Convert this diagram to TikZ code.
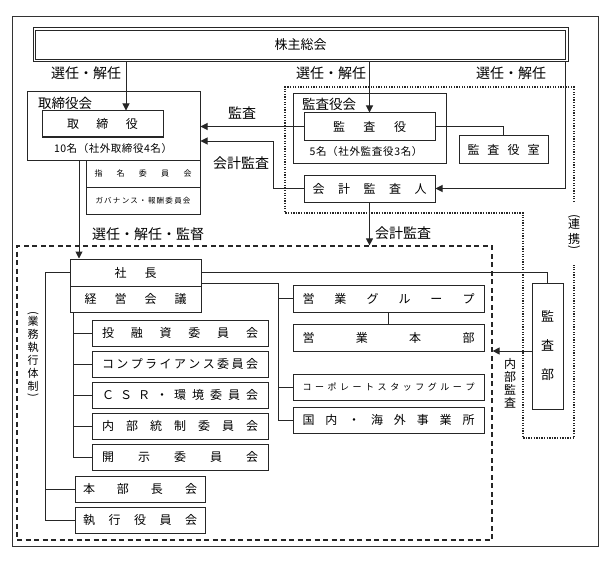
\documentclass[tikz,border=0pt]{standalone}
\usepackage{fontspec}
\setmainfont{Noto Sans CJK JP}
\usetikzlibrary{arrows.meta,calc}
\ExplSyntaxOn
\NewDocumentCommand\sprd{mm}{
  \makebox[#1]{
    \bool_set_false:N \l_tmpa_bool
    \tl_map_inline:nn {#2} { \bool_if:NT \l_tmpa_bool {\hfill} \bool_set_true:N \l_tmpa_bool ##1 }
  }
}
\ExplSyntaxOff
\newcommand\vop{\rotatebox[origin=c]{-90}{(}}
\newcommand\vcp{\rotatebox[origin=c]{-90}{)}}
\begin{document}
\begin{tikzpicture}[x=1pt,y=-1pt,
  box/.style={draw=black!85,line width=1pt,inner sep=0pt,font=\fontsize{12}{14}\selectfont},
  ln/.style={draw=black!85,line width=1pt},
  arr/.style={draw=black!85,line width=1pt,-{Triangle[length=7pt,width=7pt]}},
  lbl/.style={inner sep=0pt,font=\fontsize{14}{16}\selectfont},
  vlbl/.style={inner sep=0pt}]
\useasboundingbox (0,0) rectangle (610,567);
\draw[black!80,line width=1pt] (12,17) rectangle (598,546);

% shareholders meeting
\node[box,minimum width=535pt,minimum height=34pt,font=\fontsize{13}{15}\selectfont] (kabu) at (300.5,45) {株主総会};
\draw[black!85,line width=1.3pt] ($(kabu.north west)+(3,3)$) rectangle ($(kabu.south east)+(-3,-3)$);

% board
\node[box,minimum width=173pt,minimum height=68pt] (torikai) at (113.5,126) {};
\node[box,minimum width=121pt,minimum height=26pt] (tori) at (102.5,124) {\sprd{71pt}{取締役}};
\node[lbl,font=\fontsize{13.5}{15}\selectfont] (torikaiL) at (65,103) {取締役会};
\node[inner sep=0pt,font=\fontsize{10.5}{12}\selectfont] (toriN) at (113,149) {\sprd{118pt}{10名（社外取締役4名）}};
\node[box,minimum width=114pt,minimum height=27pt,font=\fontsize{8}{10}\selectfont] (shimei) at (143,173.5) {\sprd{97pt}{指名委員会}};
\node[box,minimum width=114pt,minimum height=27pt,font=\fontsize{7.5}{9}\selectfont] (gov) at (143,200.5) {\sprd{95pt}{ガバナンス・報酬委員会}};

% auditors
\node[box,minimum width=153pt,minimum height=69pt] (kansakai) at (369.5,128.5) {};
\node[box,minimum width=131pt,minimum height=27pt] (kansa) at (369.5,126.5) {\sprd{73pt}{監査役}};
\node[lbl,font=\fontsize{13.5}{15}\selectfont] (kansakaiL) at (329,104) {監査役会};
\node[inner sep=0pt,font=\fontsize{10.5}{12}\selectfont] (kansaN) at (366,152) {\sprd{113pt}{5名（社外監査役3名）}};
\node[box,minimum width=89pt,minimum height=27pt] (shitsu) at (503.5,149.5) {\sprd{72pt}{監査役室}};
\node[box,minimum width=131pt,minimum height=27pt] (kaikei) at (369.5,188.5) {\sprd{114pt}{会計監査人}};

% dotted region
\draw[black!85,line width=1.6pt,dash pattern=on 1.3pt off 1.3pt]
  (574,202) -- (574,87) -- (285,87) -- (285,213) -- (523,213) -- (523,438) -- (574,438) -- (574,265);
\node[vlbl,font=\fontsize{12}{13.5}\selectfont] (renkei) at (574,233)
  {\begin{tabular}{@{}c@{}}\vop\\[-5pt]連\\携\\[-5pt]\vcp\end{tabular}};

% execution
\node[draw=black!85,line width=1.2pt,dash pattern=on 5pt off 3.5pt,minimum width=475pt,minimum height=294pt,inner sep=0pt] (gyomu) at (254.5,393) {};
\node[vlbl,font=\fontsize{11}{12.5}\selectfont] (gyomuL) at (33,355)
  {\begin{tabular}{@{}c@{}}\vop\\[-4pt]業\\務\\執\\行\\体\\制\\[-4pt]\vcp\end{tabular}};

\node[box,minimum width=131pt,minimum height=27pt] (shacho) at (135.5,272.5) {\sprd{42pt}{社長}};
\node[box,minimum width=131pt,minimum height=26pt] (keiei) at (135.5,299) {\sprd{102pt}{経営会議}};

\node[box,minimum width=176pt,minimum height=26.5pt] (toyushi) at (180,333.25) {\sprd{156pt}{投融資委員会}};
\node[box,minimum width=176pt,minimum height=26.5pt] (comp) at (180,364.25) {\sprd{156pt}{コンプライアンス委員会}};
\node[box,minimum width=176pt,minimum height=26.5pt] (csr) at (180,395.25) {\sprd{156pt}{ＣＳＲ・環境委員会}};
\node[box,minimum width=176pt,minimum height=26.5pt] (naibu) at (180,426.25) {\sprd{156pt}{内部統制委員会}};
\node[box,minimum width=176pt,minimum height=26.5pt] (kaiji) at (180,457.25) {\sprd{156pt}{開示委員会}};
\node[box,minimum width=130pt,minimum height=26pt] (honbu) at (140,489) {\sprd{114pt}{本部長会}};
\node[box,minimum width=130pt,minimum height=26pt] (shikko) at (140,520) {\sprd{114pt}{執行役員会}};

\node[box,minimum width=191pt,minimum height=27pt] (eg) at (388.5,298.5) {\sprd{172pt}{営業グループ}};
\node[box,minimum width=191pt,minimum height=27pt] (eh) at (388.5,337.5) {\sprd{172pt}{営業本部}};
\node[box,minimum width=191pt,minimum height=26pt,font=\fontsize{9}{11}\selectfont] (corp) at (388.5,387) {\sprd{172pt}{コーポレートスタッフグループ}};
\node[box,minimum width=191pt,minimum height=26pt] (kok) at (388.5,420) {\sprd{172pt}{国内・海外事業所}};

\node[box,minimum width=31pt,minimum height=126pt,align=center,font=\fontsize{13}{29}\selectfont] (kansabu) at (547.5,346) {監\\査\\部};
\node[vlbl,align=center,font=\fontsize{12}{13}\selectfont] (naibuL) at (510,383) {内\\部\\監\\査};

% labels
\node[lbl] (s1) at (86,73) {選任・解任};
\node[lbl] (s2) at (331,73) {選任・解任};
\node[lbl] (s3) at (511,73) {選任・解任};
\node[lbl] (kL) at (242,113) {監査};
\node[lbl] (kkL) at (241,163) {会計監査};
\node[lbl] (kantokuL) at (148,234) {選任・解任・監督};
\node[lbl] (kk2L) at (403,233) {会計監査};

% coordinates
\coordinate (c126) at (126,0);
\coordinate (c565) at (565,0);
\coordinate (c273) at (273,141);
\coordinate (c79) at (79,0);
\coordinate (c45) at (45,0);
\coordinate (c278) at (278,283);
\coordinate (c73) at (73,0);
\coordinate (c351) at (0,351);

% connectors
\draw[arr] (kabu.south -| c126) -- (tori.north -| c126);
\draw[arr] (kabu.south -| kansa.north) -- (kansa.north);
\draw[arr] (kabu.south -| c565) |- (kaikei.east);
\draw[arr] (kansa.west) -- (kansa.west -| torikai.east);
\draw[arr] (kaikei.west) -| (c273) -- (c273 -| torikai.east);
\draw[ln] (kansa.east) -| (shitsu.north);
\draw[arr] (kaikei.south) -- (kaikei.south |- gyomu.north);
\draw[arr] (torikai.south -| c79) -- (shacho.north -| c79);
\draw[ln] (shacho.west) -| (c45 |- shikko.west) -- (shikko.west);
\draw[ln] (c45 |- honbu.west) -- (honbu.west);
\draw[ln] (shacho.east) -| (kansabu.north);
\draw[ln] (shacho.east |- c278) -| (c278 |- kok.west) -- (kok.west);
\draw[ln] (c278 |- eg.west) -- (eg.west);
\draw[ln] (c278 |- corp.west) -- (corp.west);
\draw[ln] (eg.south) -- (eh.north);
\draw[ln] (keiei.south -| c73) |- (kaiji.west);
\draw[ln] (c73 |- toyushi.west) -- (toyushi.west);
\draw[ln] (c73 |- comp.west) -- (comp.west);
\draw[ln] (c73 |- csr.west) -- (csr.west);
\draw[ln] (c73 |- naibu.west) -- (naibu.west);
\draw[arr] (kansabu.west |- c351) -- (gyomu.east |- c351);
\end{tikzpicture}
\end{document}
